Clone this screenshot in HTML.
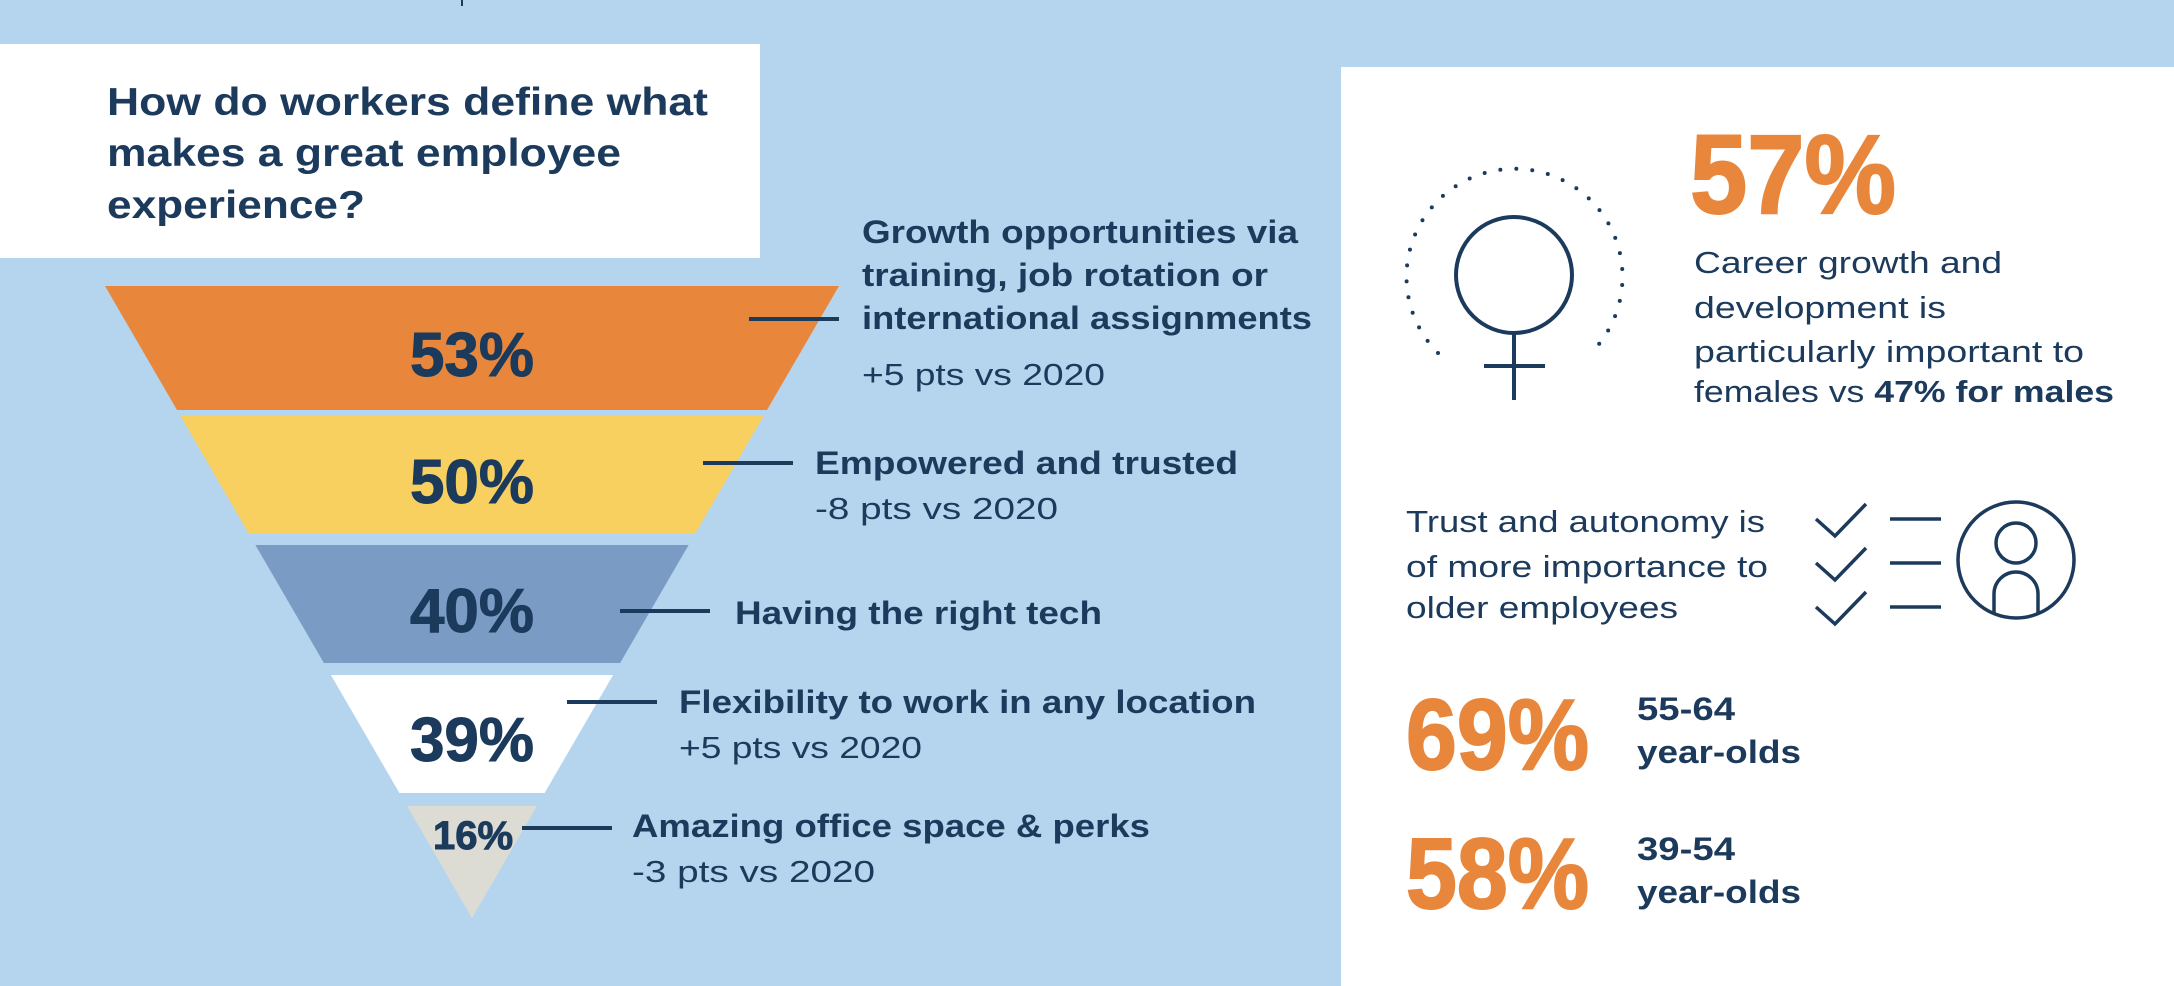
<!DOCTYPE html>
<html><head><meta charset="utf-8"><style>
html,body{margin:0;padding:0;background:#B5D4EE;}
svg{display:block;font-family:"Liberation Sans",sans-serif;}
</style></head><body>
<svg id="chart" width="2174" height="986" viewBox="0 0 2174 986">
<rect x="0" y="0" width="2174" height="986" fill="#B5D4EE"/>
<line x1="462" y1="0" x2="462" y2="6" stroke="#1B3A5C" stroke-width="2"/>
<rect x="0" y="44" width="760" height="214" fill="#fff"/>
<g fill="#1B3A5C" font-weight="bold" font-size="39">
<text x="107" y="115" textLength="601" lengthAdjust="spacingAndGlyphs">How do workers define what</text>
<text x="107" y="166" textLength="514" lengthAdjust="spacingAndGlyphs">makes a great employee</text>
<text x="107" y="218" textLength="258" lengthAdjust="spacingAndGlyphs">experience?</text>
</g>
<g id="funnel"></g>
<g id="labels"></g>

<rect x="1341" y="67" width="833" height="919" fill="#fff"/>
<g fill="none" stroke="#1B3A5C">
<circle cx="1514" cy="275" r="58" stroke-width="4"/>
<line x1="1514" y1="333" x2="1514" y2="400" stroke-width="4"/>
<line x1="1484" y1="366" x2="1545" y2="366" stroke-width="4"/>
<path d="M1438 353 A108 108 0 1 1 1591 353" stroke-width="4" stroke-dasharray="0 16" stroke-linecap="round"/>
</g>
<text x="1690" y="213" fill="#E8873C" font-weight="bold" font-size="112" textLength="206" lengthAdjust="spacingAndGlyphs" stroke="#E8873C" stroke-width="2">57%</text>
<g fill="#1B3A5C" font-size="31">
<text x="1694" y="273" textLength="308" lengthAdjust="spacingAndGlyphs">Career growth and</text>
<text x="1694" y="318" textLength="252" lengthAdjust="spacingAndGlyphs">development is</text>
<text x="1694" y="362" textLength="390" lengthAdjust="spacingAndGlyphs">particularly important to</text>
<text x="1694" y="402" textLength="420" lengthAdjust="spacingAndGlyphs">females vs <tspan font-weight="bold">47% for males</tspan></text>
</g>
<g fill="#1B3A5C" font-size="31">
<text x="1406" y="532" textLength="359" lengthAdjust="spacingAndGlyphs">Trust and autonomy is</text>
<text x="1406" y="577" textLength="362" lengthAdjust="spacingAndGlyphs">of more importance to</text>
<text x="1406" y="618" textLength="272" lengthAdjust="spacingAndGlyphs">older employees</text>
</g>
<g fill="none" stroke="#1B3A5C" stroke-width="3.5">
<polyline points="1816,519 1835,536 1866,504"/>
<polyline points="1816,563 1835,580 1866,548"/>
<polyline points="1816,607 1835,624 1866,592"/>
<line x1="1890" y1="519" x2="1941" y2="519"/>
<line x1="1890" y1="563" x2="1941" y2="563"/>
<line x1="1890" y1="607" x2="1941" y2="607"/>
</g>
<g fill="none" stroke="#1B3A5C" stroke-width="3.5">
<circle cx="2016" cy="560" r="58"/>
<circle cx="2016" cy="543" r="20"/>
<path d="M1994 613 L1994 594 A22 22 0 0 1 2038 594 L2038 613"/>
</g>
<text x="1406" y="769" fill="#E8873C" font-weight="bold" font-size="100" textLength="183" lengthAdjust="spacingAndGlyphs" stroke="#E8873C" stroke-width="2">69%</text>
<text x="1406" y="908" fill="#E8873C" font-weight="bold" font-size="100" textLength="183" lengthAdjust="spacingAndGlyphs" stroke="#E8873C" stroke-width="2">58%</text>
<g fill="#1B3A5C" font-weight="bold" font-size="32">
<text x="1637" y="720" textLength="98" lengthAdjust="spacingAndGlyphs">55-64</text>
<text x="1637" y="763" textLength="164" lengthAdjust="spacingAndGlyphs">year-olds</text>
<text x="1637" y="860" textLength="98" lengthAdjust="spacingAndGlyphs">39-54</text>
<text x="1637" y="903" textLength="164" lengthAdjust="spacingAndGlyphs">year-olds</text>
</g>
</svg>
<script>
const values = [53, 50, 40, 39, 16];
const titles = [["Growth opportunities via","training, job rotation or","international assignments"],["Empowered and trusted"],["Having the right tech"],["Flexibility to work in any location"],["Amazing office space & perks"]];
const changes = ["+5 pts vs 2020","-8 pts vs 2020","","+5 pts vs 2020","-3 pts vs 2020"];

const NS = "http://www.w3.org/2000/svg";
const fill = ["#E8873C","#F7D060","#7A9CC4","#FFFFFF","#DCDCD4"];
const bandTop = [286,416,545,675,806], bandBot = [410,534,663,793,918];
const cx = 472, apex = 918, topY = 286, halfTop = 367;
function hw(y){ return halfTop*(apex-y)/(apex-topY); }
const fg = document.getElementById('funnel'), lg = document.getElementById('labels');
function mk(tag, attrs, parent){ const e=document.createElementNS(NS,tag); for(const k in attrs) e.setAttribute(k,attrs[k]); parent.appendChild(e); return e; }
const labelCY = [354,481,610,739,829];
const lineX = [[749,839],[703,793],[620,710],[567,657],[522,612]];
const lineY = [319,463,611,702,828];
const textX = [862,815,735,679,632];
const textY = [243,474,624,713,837];
const subY = [385,519,0,758,882];
const titleW = [[436,406,450],[423],[367],[577],[518]];
values.forEach((v,i)=>{
  const t=bandTop[i], b=bandBot[i];
  const pts = i===4 ? `${cx-hw(t)},${t} ${cx+hw(t)},${t} ${cx},${b}` : `${cx-hw(t)},${t} ${cx+hw(t)},${t} ${cx+hw(b)},${b} ${cx-hw(b)},${b}`;
  const p = mk('polygon',{points:pts,fill:fill[i]},fg);
  
  
  const small = i===4;
  const tx = mk('text',{x: small?473:cx, y: small?849:labelCY[i]+22, 'text-anchor':'middle', 'font-weight':'bold', 'font-size': small?40:62, fill:'#1B3A5C', stroke:'#1B3A5C', 'stroke-width':1},lg);
  tx.textContent = v+'%';
  
  
  const ln = mk('line',{x1:lineX[i][0],x2:lineX[i][1],y1:lineY[i],y2:lineY[i],stroke:'#1B3A5C','stroke-width':4},lg);
  
  
  titles[i].forEach((s,j)=>{
    const tt = mk('text',{x:textX[i], y:textY[i]+j*43, 'font-weight':'bold','font-size':32, fill:'#1B3A5C', textLength:titleW[i][j], lengthAdjust:'spacingAndGlyphs'},lg);
    tt.textContent = s;
    
    
  });
  if(changes[i]){
    const ct = mk('text',{x:textX[i], y:subY[i], 'font-size':31, fill:'#1B3A5C', textLength:243, lengthAdjust:'spacingAndGlyphs'},lg);
    ct.textContent = changes[i];
    
    
  }
});
</script>
</body></html>
